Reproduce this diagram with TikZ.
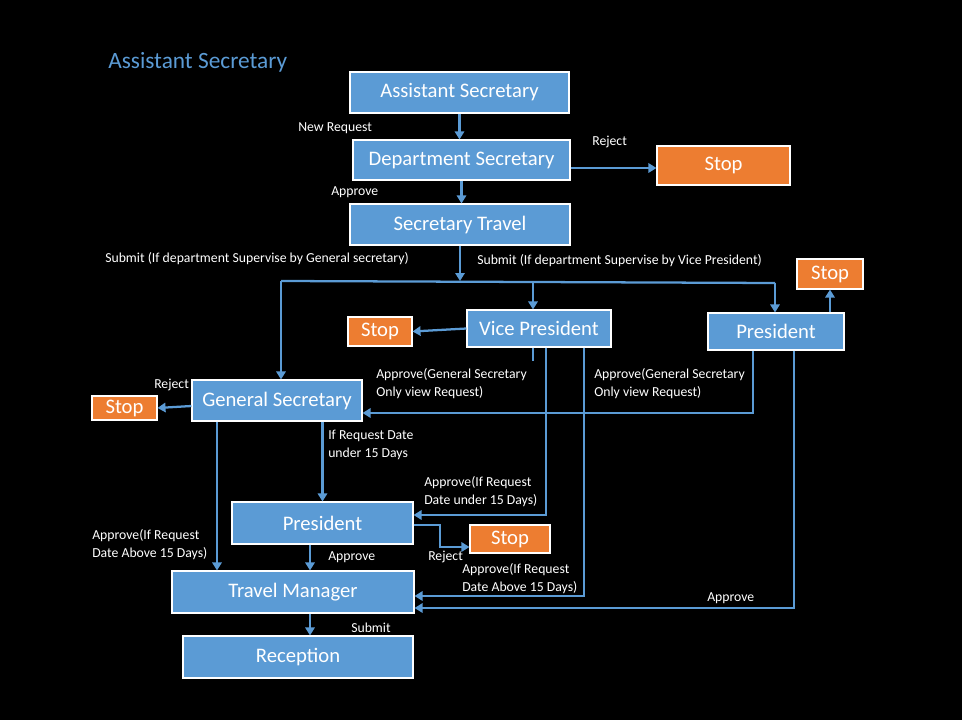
\documentclass[tikz,border=0pt]{standalone}
\usepackage{fontspec}
\setmainfont{Carlito}
\usepackage{tikz}
\usetikzlibrary{arrows.meta,positioning,calc}
\usepackage{xcolor}
\definecolor{flowblue}{HTML}{5B9BD5}
\definecolor{flowstop}{HTML}{ED7D31}

\begin{document}
\begin{tikzpicture}[x=0.75pt, y=-0.75pt,
    box/.style={draw=white, line width=0.8pt, fill=flowblue, text=white,
        font=\fontsize{15.5}{18}\selectfont, inner sep=0pt},
    stopbox/.style={box, fill=flowstop},
    lbl/.style={text=white, font=\fontsize{10.3}{13.5}\selectfont, align=left,
        anchor=west, inner sep=0pt},
    link/.style={draw=flowblue, line width=1.7pt},
    arr/.style={link, -{Triangle[length=6pt,width=7pt]}}]
    % 背景
    \fill[black] (0,0) rectangle (962,720);
    \useasboundingbox (0,0) rectangle (962,720);
    \node[anchor=west, inner sep=0pt, text=flowblue, font=\fontsize{17.5}{20}\selectfont] (title) at (108,62) {Assistant Secretary};

    % 上面的流程
    \node[box, minimum width=164.25pt, minimum height=30.75pt] (AS) at (459.5,92.5) {Assistant Secretary};
    \node[box, minimum width=162.75pt, minimum height=30pt] (DS) at (461.5,160) {Department Secretary};
    \node[stopbox, minimum width=99.75pt, minimum height=29.25pt] (stopDS) at (723.5,165.5) {Stop};
    \node[box, minimum width=165pt, minimum height=30.75pt] (ST) at (460,224.5) {Secretary Travel};

    % 中间
    \node[box, minimum width=108pt, minimum height=27.75pt] (VP) at (539,328.5) {Vice President};
    \node[stopbox, minimum width=48pt, minimum height=21.75pt] (stopVP) at (380,331.5) {Stop};
    \node[box, minimum width=102pt, minimum height=27.75pt] (P1) at (776,331.5) {President};
    \node[stopbox, minimum width=49.5pt, minimum height=22.5pt] (stopP1) at (830,274) {Stop};
    \node[box, minimum width=127.5pt, minimum height=30.75pt] (GS) at (277,400.5) {General Secretary};
    \node[stopbox, minimum width=48.75pt, minimum height=18pt] (stopGS) at (124.5,408) {Stop};

    % 下面
    \node[box, minimum width=135.75pt, minimum height=31.5pt] (P2) at (322.5,523) {President};
    \node[stopbox, minimum width=60pt, minimum height=21pt] (stopP2) at (510,539) {Stop};
    \node[box, minimum width=181.5pt, minimum height=31.5pt] (TM) at (293,592) {Travel Manager};
    \node[box, minimum width=172.5pt, minimum height=31.5pt] (RC) at (298,657) {Reception};

    % 折点
    \coordinate (split) at (460,281);
    \coordinate (busL) at (281,281);
    \coordinate (busV) at (533,282);
    \coordinate (busR) at (775,283);
    \coordinate (stub) at (533,361);
    \coordinate (vpA) at (546,515);
    \coordinate (vpB) at (584,596);
    \coordinate (pA) at (753,413);
    \coordinate (pB) at (794,608);
    \coordinate (gA) at (217,500);
    \coordinate (rA) at (440,547);
    \coordinate (tA) at (310,600);

    % 连线
    \draw[arr] (AS.south) -- (AS.south |- DS.north);
    \draw[arr] (DS.east |- 0,168) -- (stopDS.west |- 0,168);
    \draw[arr] (DS.south) -- (DS.south |- ST.north);
    \draw[arr] (ST.south -| split) -- (split);
    \draw[link] (busL) -- (busV) -- (busR);
    \draw[arr] (busL) -- (busL |- GS.north);
    \draw[arr] (busV) -- (busV |- VP.north);
    \draw[arr] (busR) -- (busR |- P1.north);
    \draw[arr] (stopP1.south |- P1.north) -- (stopP1.south);
    \draw[arr] (VP.west) -- (stopVP.east);
    \draw[link] (stub |- VP.south) -- (stub);
    \draw[arr] (vpA |- VP.south) -- (vpA) -- (vpA -| P2.east);
    \draw[arr] (vpB |- VP.south) -- (vpB) -- (vpB -| TM.east);
    \draw[arr] (pA |- P1.south) -- (pA) -- (pA -| GS.east);
    \draw[arr] (pB |- P1.south) -- (pB) -- (pB -| TM.east);
    \draw[arr] (GS.west |- 0,406) -- (stopGS.east);
    \draw[arr] (gA |- GS.south) -- (gA |- TM.north);
    \draw[arr] (P2.north |- GS.south) -- (P2.north);
    \draw[arr] (P2.east |- 0,525) -- (rA |- 0,525) -- (rA) -- (rA -| stopP2.west);
    \draw[arr] (tA |- P2.south) -- (tA |- TM.north);
    \draw[arr] (tA |- TM.south) -- (tA |- RC.north);

    % 标签
    \node[lbl] (lNew) at (298,128) {New Request};
    \node[lbl] (lRejDS) at (592,142) {Reject};
    \node[lbl] (lAppDS) at (331,192) {Approve};
    \node[lbl] (lSubGS) at (105,259) {Submit (If department Supervise by General secretary)};
    \node[lbl] (lSubVP) at (477,261) {Submit (If department Supervise by Vice President)};
    \node[lbl] (lViewVP) at (376,384) {Approve(General Secretary\\Only view Request)};
    \node[lbl] (lViewP1) at (594,384) {Approve(General Secretary\\Only view Request)};
    \node[lbl] (lRejGS) at (154,385) {Reject};
    \node[lbl] (lUnder) at (328,445) {If Request Date\\under 15 Days};
    \node[lbl] (lVPunder) at (424,492) {Approve(If Request\\Date under 15 Days)};
    \node[lbl] (lGSabove) at (92,545) {Approve(If Request\\Date Above 15 Days)};
    \node[lbl] (lAppP2) at (328,557) {Approve};
    \node[lbl] (lRejP2) at (428,557) {Reject};
    \node[lbl] (lVPabove) at (462,579) {Approve(If Request\\Date Above 15 Days)};
    \node[lbl] (lAppP1) at (707,598) {Approve};
    \node[lbl] (lSub) at (351,628) {Submit};
\end{tikzpicture}
\end{document}
